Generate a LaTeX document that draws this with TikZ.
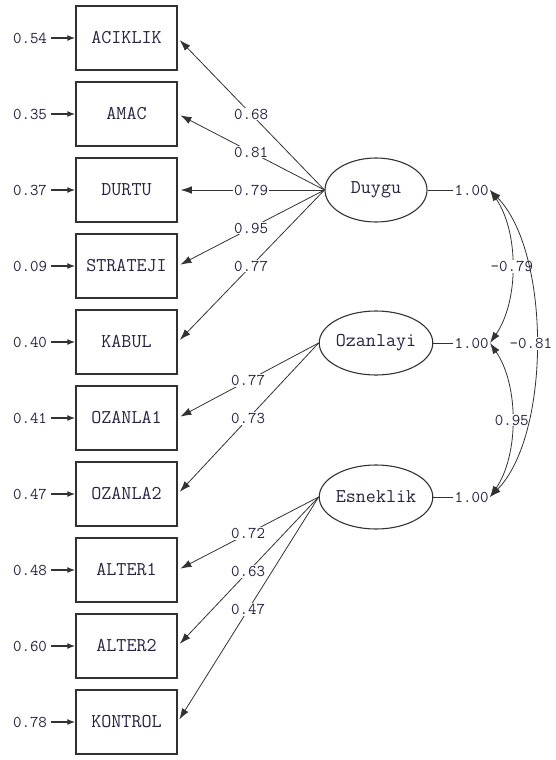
\documentclass[tikz,border=0pt]{standalone}
\usepackage{fontspec}
\usetikzlibrary{arrows.meta,shapes.geometric}
\definecolor{txt}{RGB}{40,35,65}
\definecolor{ln}{RGB}{50,50,50}
\begin{document}
\begin{tikzpicture}[x=1pt,y=-1pt,
 obs/.style={draw=ln, line width=1.5pt, minimum width=101pt, minimum height=64pt, inner sep=0pt, font=\ttfamily\fontsize{19.5}{19.5}\selectfont, text=txt},
 lat/.style={ellipse, draw=ln, line width=1.1pt, minimum width=102pt, minimum height=64pt, inner sep=0pt, font=\ttfamily\fontsize{19.5}{19.5}\selectfont, text=txt},
 num/.style={font=\ttfamily\fontsize{16.5}{16.5}\selectfont, text=txt, inner sep=1pt},
 lbl/.style={num, fill=white},
 load/.style={draw=ln, line width=0.8pt, -{Latex[length=11pt,width=7.5pt]}, shorten >=3pt},
 errarr/.style={draw=ln, line width=1.3pt, -{Latex[length=8pt,width=6pt]}, shorten <=3pt},
 cov/.style={draw=ln, line width=0.8pt, {Latex[length=11pt,width=7.5pt]}-{Latex[length=11pt,width=7.5pt]}},
 varline/.style={draw=ln, line width=1pt}
]
\useasboundingbox (0,0) rectangle (555,760);

% observed variables
\node[obs] (aciklik) at (126.5,38) {ACIKLIK};
\node[obs] (amac) at (126.5,114) {AMAC};
\node[obs] (durtu) at (126.5,190) {DURTU};
\node[obs] (strateji) at (126.5,266) {STRATEJI};
\node[obs] (kabul) at (126.5,342) {KABUL};
\node[obs] (ozanla1) at (126.5,418) {OZANLA1};
\node[obs] (ozanla2) at (126.5,494) {OZANLA2};
\node[obs] (alter1) at (126.5,570) {ALTER1};
\node[obs] (alter2) at (126.5,646) {ALTER2};
\node[obs] (kontrol) at (126.5,722) {KONTROL};

% error variances
\node[num] (e1) at (30,38) {0.54};
\node[num] (e2) at (30,114) {0.35};
\node[num] (e3) at (30,190) {0.37};
\node[num] (e4) at (30,266) {0.09};
\node[num] (e5) at (30,342) {0.40};
\node[num] (e6) at (30,418) {0.41};
\node[num] (e7) at (30,494) {0.47};
\node[num] (e8) at (30,570) {0.48};
\node[num] (e9) at (30,646) {0.60};
\node[num] (e10) at (30,722) {0.78};
\draw[errarr] (e1.east) -- (aciklik.west);
\draw[errarr] (e2.east) -- (amac.west);
\draw[errarr] (e3.east) -- (durtu.west);
\draw[errarr] (e4.east) -- (strateji.west);
\draw[errarr] (e5.east) -- (kabul.west);
\draw[errarr] (e6.east) -- (ozanla1.west);
\draw[errarr] (e7.east) -- (ozanla2.west);
\draw[errarr] (e8.east) -- (alter1.west);
\draw[errarr] (e9.east) -- (alter2.west);
\draw[errarr] (e10.east) -- (kontrol.west);

% latent variables
\node[lat] (duygu) at (376,190) {Duygu};
\node[lat] (ozan) at (376,343) {Ozanlayi};
\node[lat] (esnek) at (376,497) {Esneklik};

% loadings
\draw[load] (duygu.west) -- node[lbl]{0.68} (aciklik.east);
\draw[load] (duygu.west) -- node[lbl]{0.81} (amac.east);
\draw[load] (duygu.west) -- node[lbl]{0.79} (durtu.east);
\draw[load] (duygu.west) -- node[lbl]{0.95} (strateji.east);
\draw[load] (duygu.west) -- node[lbl]{0.77} (kabul.east);
\draw[load] (ozan.west) -- node[lbl]{0.77} (ozanla1.east);
\draw[load] (ozan.west) -- node[lbl]{0.73} (ozanla2.east);
\draw[load] (esnek.west) -- node[lbl]{0.72} (alter1.east);
\draw[load] (esnek.west) -- node[lbl]{0.63} (alter2.east);
\draw[load] (esnek.west) -- node[lbl]{0.47} (kontrol.east);

% latent variances
\node[num] (v1) at (471.5,190) {1.00};
\node[num] (v2) at (471.5,343) {1.00};
\node[num] (v3) at (471.5,497) {1.00};
\draw[varline] (duygu.east) -- (v1.west);
\draw[varline] (ozan.east) -- (v2.west);
\draw[varline] (esnek.east) -- (v3.west);

% covariances
\coordinate (c1) at (490,190);
\coordinate (c2) at (490,343);
\coordinate (c3) at (490,497);
\draw[cov] (c1) .. controls (519,232) and (519,301) .. node[lbl]{-0.79} (c2);
\draw[cov] (c2) .. controls (519,385) and (519,455) .. node[lbl]{0.95} (c3);
\draw[cov] (c1) .. controls (551,252) and (551,435) .. node[lbl,xshift=-5pt]{-0.81} (c3);
\end{tikzpicture}
\end{document}
